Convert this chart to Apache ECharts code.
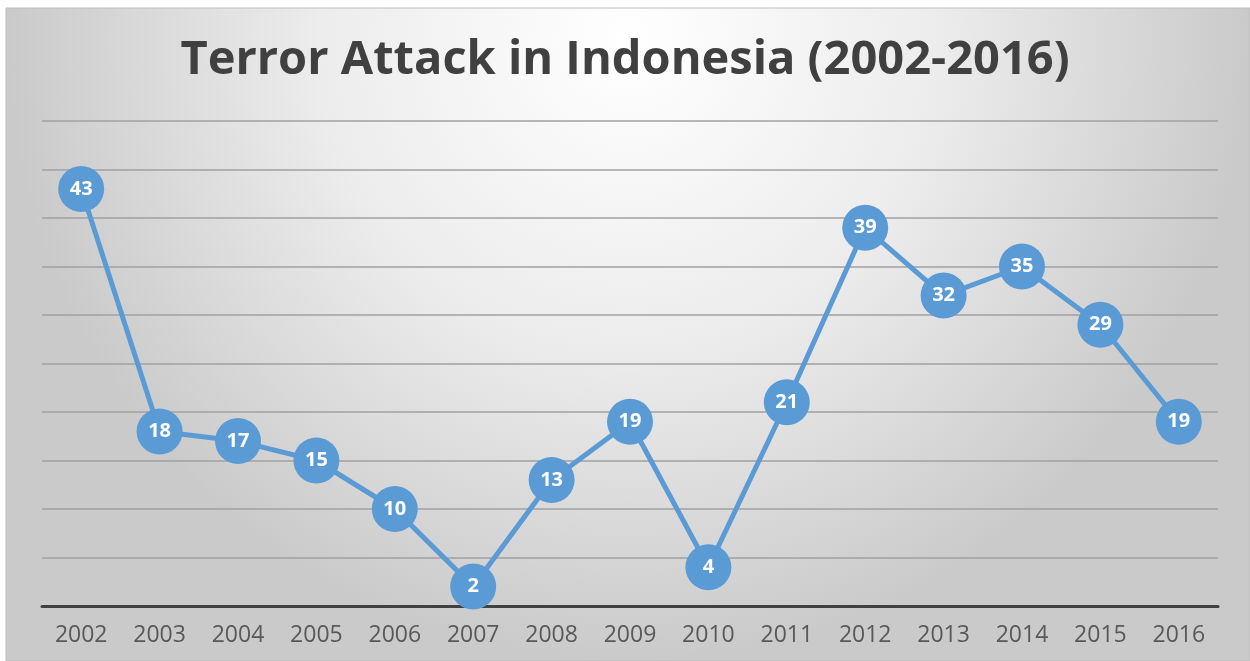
<!DOCTYPE html>
<html>
<head>
<meta charset="utf-8">
<script src="https://cdn.jsdelivr.net/npm/echarts@6/dist/echarts.min.js"></script>
<style>html,body{margin:0;padding:0;background:#fff;}#c{width:1250px;height:661px;}</style>
</head>
<body>
<div id="c"></div>
<script>
var years = ['2002','2003','2004','2005','2006','2007','2008','2009','2010','2011','2012','2013','2014','2015','2016'];
var attacks = [43,18,17,15,10,2,13,19,4,21,39,32,35,29,19];
var titleText = 'Terror Attack in Indonesia (2002-2016)';

var chart = echarts.init(document.getElementById('c'));
chart.setOption({
  animation: false,
  graphic: [{
    type: 'rect', z: -10, silent: true,
    shape: { x: 6, y: 8, width: 1244, height: 653 },
    style: {
      fill: new echarts.graphic.RadialGradient(0.5, 0.05, 0.95, [
        { offset: 0, color: '#ffffff' },
        { offset: 0.5, color: '#ececec' },
        { offset: 1, color: '#cacaca' }
      ]),
      stroke: '#bdbdbd', lineWidth: 1
    }
  }],
  title: {
    text: titleText, left: 'center', top: 32,
    textStyle: { fontFamily: 'Open Sans', fontWeight: 'bold', fontSize: 47, color: '#404040' }
  },
  grid: { left: 42, right: 32, top: 121, bottom: 55 },
  xAxis: {
    type: 'category', data: years, boundaryGap: true,
    axisLine: { show: true, lineStyle: { color: '#404040', width: 3 } },
    axisTick: { show: false },
    axisLabel: { color: '#595959', fontSize: 23, fontFamily: 'Open Sans', margin: 18 }
  },
  yAxis: {
    type: 'value', min: 0, max: 50, interval: 5,
    axisLine: { show: false }, axisTick: { show: false }, axisLabel: { show: false },
    splitLine: { lineStyle: { color: '#a0a0a0', width: 1.5 } }
  },
  series: [{
    type: 'line', data: attacks,
    symbol: 'circle', symbolSize: 46,
    lineStyle: { color: '#5B9BD5', width: 5 },
    itemStyle: { color: '#5B9BD5' },
    label: { show: true, position: 'inside', color: '#ffffff', fontWeight: 'bold', fontSize: 20, fontFamily: 'Open Sans' }
  }]
});
</script>
</body>
</html>
